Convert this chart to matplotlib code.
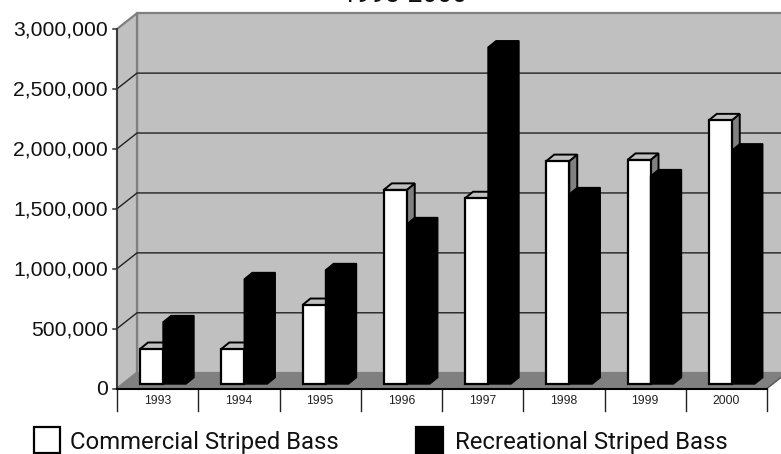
import matplotlib
matplotlib.use("Agg")
import matplotlib.pyplot as plt
from matplotlib.patches import Polygon, Rectangle

years = ["1993", "1994", "1995", "1996", "1997", "1998", "1999", "2000"]
commercial = [292000, 292000, 659000, 1620000, 1550000, 1860000, 1870000, 2200000]
recreational = [517000, 876000, 951000, 1335000, 2810000, 1585000, 1735000, 1950000]
y_ticks = [0, 500000, 1000000, 1500000, 2000000, 2500000, 3000000]
title = "1993-2000"
legend_labels = ["Commercial Striped Bass", "Recreational Striped Bass"]

W, H = 781, 454
GREY_WALL = "#c0c0c0"
GREY_DARK = "#808080"

plt.rcParams["font.family"] = ["Liberation Sans", "DejaVu Sans"]
fig = plt.figure(figsize=(W / 100, H / 100), dpi=100)


def box(x0, y0, x1, y1):
    # pixel box measured from the top left of the picture
    return [x0 / W, 1 - y1 / H, (x1 - x0) / W, (y1 - y0) / H]


# front plane of the chart, this carries the value scale
ax = fig.add_axes(box(117, 29, 767, 388.5))
ax.set_xlim(0, 8)
ax.set_ylim(0, 3000000)
ax.set_axis_off()

px_x = 8 / 650          # one pixel in x data units
px_y = 3000000 / 359.5  # one pixel in y data units


def shape(points, **kw):
    ax.add_patch(Polygon(points, closed=True, clip_on=False, **kw))


# back wall, runs off the right edge of the picture
dx, dy = 20 * px_x, 15.8 * px_y
ymax = 3000000
xr = 8 + dx
shape([(dx, dy), (dx, ymax + dy), (xr, ymax + dy), (xr, dy)], fc=GREY_WALL, ec=GREY_DARK, lw=1.6, zorder=1)
# side wall
shape([(0, 0), (0, ymax), (dx, ymax + dy), (dx, dy)], fc=GREY_WALL, ec=GREY_DARK, lw=1.6, zorder=1.5)
# floor
shape([(0, 0), (dx, dy), (xr, dy), (8, 0)], fc=GREY_DARK, ec="none", zorder=2)

# gridlines with their slanted part on the side wall
for v in y_ticks[1:-1]:
    ax.plot([0, dx, xr], [v, v + dy, v + dy], color="#222222", lw=1.0, zorder=2, clip_on=False)

# axes lines
ax.plot([0, 0], [0, ymax], color="#333333", lw=1.3, zorder=3, clip_on=False)
ax.plot([0, 8], [0, 0], color="#000000", lw=1.5, zorder=8, clip_on=False)
ax.plot([8, xr], [0, dy], color="#555555", lw=1, zorder=3, clip_on=False)

for v in y_ticks:
    ax.plot([-4 * px_x, 0], [v, v], color="#333333", lw=1.1, clip_on=False, zorder=3)
    ax.text(-9 * px_x, v - 1 * px_y, f"{v:,}", ha="right", va="center", fontsize=15.2, color="#111111")

for i in range(9):
    ax.plot([i, i], [0, -22 * px_y], color="#222222", lw=1, clip_on=False, zorder=3)
for i, year in enumerate(years):
    ax.text(i + 0.5, -12.5 * px_y, year, ha="center", va="center", fontsize=8.7, color="#222222")

# bars, front face sits a little behind the front plane
off_y = 4.5 * px_y
bar_w = 23 * px_x
dep_x, dep_y = 8 * px_x, 6.5 * px_y
start = 23 * px_x
for i in range(len(years)):
    x1 = i + start
    v = commercial[i]
    yb = off_y
    yt = v + off_y
    # white bar: front, top and grey side
    shape([(x1 + bar_w, yb), (x1 + bar_w + dep_x, yb + dep_y), (x1 + bar_w + dep_x, yt + dep_y), (x1 + bar_w, yt)],
          fc=GREY_DARK, ec="black", lw=1.4, zorder=4 + i * 0.01, joinstyle="miter")
    shape([(x1, yt), (x1 + dep_x, yt + dep_y), (x1 + bar_w + dep_x, yt + dep_y), (x1 + bar_w, yt)],
          fc=GREY_WALL, ec="black", lw=1.4, zorder=4 + i * 0.01, joinstyle="miter")
    ax.add_patch(Rectangle((x1, yb), bar_w, v, fc="white", ec="black", lw=1.6, zorder=4.5 + i * 0.01,
                           clip_on=False, joinstyle="miter"))
    # black bar is one solid outline
    x2 = x1 + bar_w
    r = recreational[i] + off_y
    shape([(x2, yb), (x2 + bar_w, yb), (x2 + bar_w + dep_x, yb + dep_y), (x2 + bar_w + dep_x, r + dep_y),
           (x2 + dep_x, r + dep_y), (x2, r)],
          fc="black", ec="black", lw=1, zorder=5 + i * 0.01)

# title is cut by the top edge of the picture
fig.text(405 / W, 1 - 1.5 / H, title, ha="center", va="baseline", fontsize=19, color="#111111",
         fontfamily=["Roboto", "DejaVu Sans"])

# legend drawn by hand, no narrow font here so Roboto is the closest
legend_font = ["Roboto", "DejaVu Sans"]
fig.add_artist(Rectangle((34 / W, 1 - 453 / H), 26 / W, 26 / H, transform=fig.transFigure,
                         fc="white", ec="black", lw=1.6))
fig.add_artist(Rectangle((416 / W, 1 - 453 / H), 27.5 / W, 26 / H, transform=fig.transFigure,
                         fc="black", ec="black", lw=1.6))
fig.text(70 / W, 1 - 449 / H, legend_labels[0], ha="left", va="baseline", fontsize=17.2, color="#111111",
         fontfamily=legend_font)
fig.text(454.5 / W, 1 - 449 / H, legend_labels[1], ha="left", va="baseline", fontsize=17.2, color="#111111",
         fontfamily=legend_font)

fig.savefig("out.png", dpi=100)
